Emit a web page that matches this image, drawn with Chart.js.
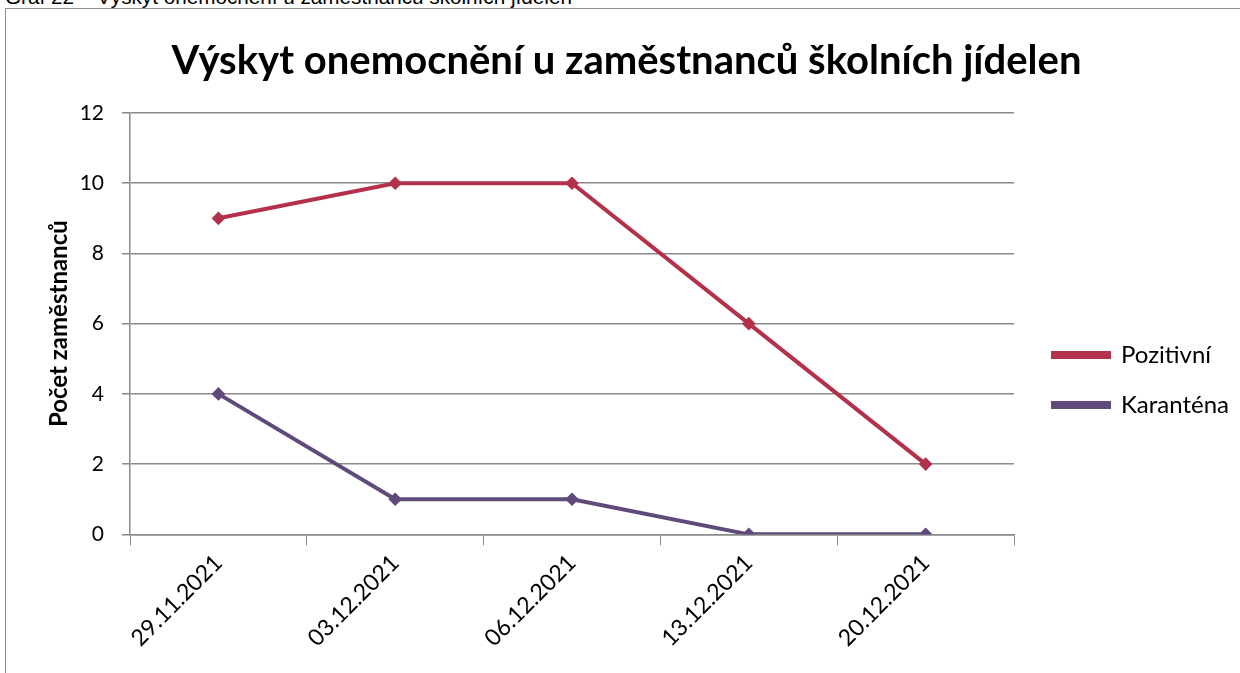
<!DOCTYPE html>
<html>
<head>
    <meta charset="utf-8">
    <title>Výskyt onemocnění u zaměstnanců školních jídelen</title>
    <script src="https://cdn.jsdelivr.net/npm/chart.js@4.4.0/dist/chart.umd.min.js"></script>
    <style>
        body {
            margin: 0;
            padding: 0;
            overflow: hidden;
            background: #fff;
            width: 1240px;
            height: 673px;
        }
        .caption {
            position: absolute;
            left: 5px;
            top: -15px;
            font-family: "Liberation Sans", Arial, sans-serif;
            font-size: 20.7px;
            line-height: 24px;
            color: #000;
            white-space: nowrap;
        }
        .frame {
            position: absolute;
            left: 5px;
            top: 8px;
            width: 1300px;
            height: 700px;
            border: 1.5px solid #8c8c8c;
        }
        .wrap {
            position: absolute;
            left: 0;
            top: 0;
            width: 1240px;
            height: 673px;
        }
    </style>
</head>
<body>
    <div class="caption">Graf 22 – Výskyt onemocnění u zaměstnanců školních jídelen</div>
    <div class="frame"></div>
    <div class="wrap">
        <canvas id="myChart" width="1240" height="673"></canvas>
    </div>
    <script>
        // datos
        const datumy = ['29.11.2021', '03.12.2021', '06.12.2021', '13.12.2021', '20.12.2021'];
        const pozitivni = [9, 10, 10, 6, 2];
        const karantena = [4, 1, 1, 0, 0];
        const osaY = [0, 2, 4, 6, 8, 10, 12];

        const pismo = 'Lato, Calibri, sans-serif';
        const seda = '#8a8a8a';
        const mezeraLegendy = 13; // mezera mezi grafem a legendou

        // posune legendu o kousek doprava od grafu
        const odsazeniLegendy = {
            id: 'odsazeniLegendy',
            afterInit: function (chart) {
                const legenda = chart.legend;
                const fit = legenda.fit;
                legenda.fit = function () {
                    fit.call(this);
                    this.width += mezeraLegendy;
                };
            },
            afterLayout: function (chart) {
                chart.legend.left += mezeraLegendy;
            }
        };

        var ctx = document.getElementById('myChart').getContext('2d');

        var myChart = new Chart(ctx, {
            type: 'line',
            data: {
                labels: datumy,
                datasets: [{
                    label: 'Pozitivní',
                    data: pozitivni,
                    borderColor: '#b3314a',
                    backgroundColor: '#b3314a',
                    borderWidth: 4,
                    tension: 0,
                    pointStyle: 'rectRot',
                    pointRadius: 4,
                    pointHoverRadius: 4
                }, {
                    label: 'Karanténa',
                    data: karantena,
                    borderColor: '#604a7b',
                    backgroundColor: '#604a7b',
                    borderWidth: 4,
                    tension: 0,
                    pointStyle: 'rectRot',
                    pointRadius: 4,
                    pointHoverRadius: 4
                }]
            },
            plugins: [odsazeniLegendy],
            options: {
                responsive: false,
                animation: false,
                layout: {
                    padding: { left: 14, right: 1, top: 8, bottom: 17 }
                },
                scales: {
                    x: {
                        offset: true,
                        afterFit: function (axis) {
                            axis.paddingLeft = 0;
                            axis.paddingRight = 0;
                        },
                        grid: {
                            offset: true,
                            drawOnChartArea: false,
                            drawTicks: true,
                            tickLength: 11,
                            color: seda
                        },
                        border: { color: seda, width: 1.5 },
                        ticks: {
                            minRotation: 45,
                            maxRotation: 45,
                            color: '#000',
                            padding: 4,
                            font: { family: pismo, size: 23 }
                        }
                    },
                    y: {
                        min: osaY[0],
                        max: osaY[osaY.length - 1],
                        afterBuildTicks: function (axis) {
                            axis.ticks = osaY.map(v => ({ value: v }));
                        },
                        afterFit: function (axis) {
                            axis.width = 116;
                        },
                        grid: {
                            color: seda,
                            lineWidth: 1.5,
                            tickLength: 8
                        },
                        border: { color: seda, width: 1.5 },
                        ticks: {
                            color: '#000',
                            padding: 18,
                            font: { family: pismo, size: 21 }
                        },
                        title: {
                            display: true,
                            text: 'Počet zaměstnanců',
                            color: '#000',
                            padding: { top: 31, bottom: 0 },
                            font: { family: pismo, size: 24, weight: 'bold' }
                        }
                    }
                },
                plugins: {
                    title: {
                        display: true,
                        text: 'Výskyt onemocnění u zaměstnanců školních jídelen',
                        color: '#000',
                        padding: { top: 29, bottom: 28 },
                        font: { family: pismo, size: 40, weight: 'bold' }
                    },
                    legend: {
                        position: 'right',
                        title: {
                            display: true,
                            text: '',
                            padding: { top: 0, bottom: 72 },
                            font: { family: pismo, size: 20 }
                        },
                        labels: {
                            color: '#000',
                            boxWidth: 56,
                            boxHeight: 4,
                            padding: 26,
                            font: { family: pismo, size: 24 }
                        }
                    },
                    tooltip: { enabled: false }
                }
            }
        });
    </script>
</body>
</html>
